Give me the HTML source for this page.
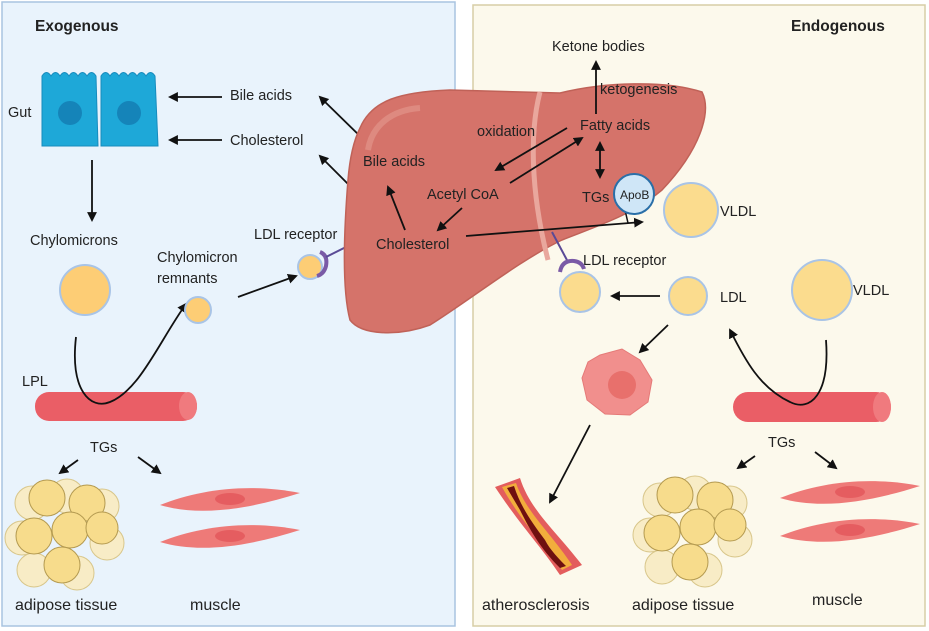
<!DOCTYPE html>
<html><head><meta charset="utf-8"><style>
html,body{margin:0;padding:0;background:#fff;}
svg{display:block;font-family:"Liberation Sans",sans-serif;}
text{font-size:14.5px;fill:#222;}
</style></head><body>
<svg width="929" height="631" viewBox="0 0 929 631" xmlns="http://www.w3.org/2000/svg">
<defs>
<marker id="a" viewBox="0 0 10 10" refX="8" refY="5" markerWidth="5.5" markerHeight="5.5" orient="auto-start-reverse"><path d="M0,0 L10,5 L0,10 z" fill="#111"/></marker>
<g id="fat">
<circle cx="-30" cy="-25" r="17" fill="#f8ecc6" stroke="#d8c68a"/>
<circle cx="5" cy="-32" r="17" fill="#f8ecc6" stroke="#d8c68a"/>
<circle cx="40" cy="-22" r="17" fill="#f8ecc6" stroke="#d8c68a"/>
<circle cx="-40" cy="10" r="17" fill="#f8ecc6" stroke="#d8c68a"/>
<circle cx="45" cy="15" r="17" fill="#f8ecc6" stroke="#d8c68a"/>
<circle cx="-28" cy="42" r="17" fill="#f8ecc6" stroke="#d8c68a"/>
<circle cx="15" cy="45" r="17" fill="#f8ecc6" stroke="#d8c68a"/>
<circle cx="-15" cy="-30" r="18" fill="#f7dc8c" stroke="#b49a50"/>
<circle cx="25" cy="-25" r="18" fill="#f7dc8c" stroke="#b49a50"/>
<circle cx="-28" cy="8" r="18" fill="#f7dc8c" stroke="#b49a50"/>
<circle cx="8" cy="2" r="18" fill="#f7dc8c" stroke="#b49a50"/>
<circle cx="40" cy="0" r="16" fill="#f7dc8c" stroke="#b49a50"/>
<circle cx="0" cy="37" r="18" fill="#f7dc8c" stroke="#b49a50"/>
</g>
<g id="mus">
<path d="M0,0 C40,-16 90,-22 140,-12 C90,4 40,12 0,0 Z" fill="#ee7a78"/>
<ellipse cx="70" cy="-6" rx="15" ry="6" fill="#e55d60"/>
</g>
</defs>
<rect x="2" y="2" width="453" height="624" fill="#e9f3fc" stroke="#a9c4e0" stroke-width="1.5"/>
<rect x="473" y="5" width="452" height="621" fill="#fcf9ec" stroke="#d7cea6" stroke-width="1.5"/>
<text x="35" y="31" style="font-weight:bold;font-size:15.5px">Exogenous</text>
<text x="791" y="31" style="font-weight:bold;font-size:15.5px">Endogenous</text>

<!-- gut -->
<path d="M42,76 q4.5,-7 9,0 q4.5,-7 9,0 q4.5,-7 9,0 q4.5,-7 9,0 q4.5,-7 9,0 q4.5,-7 9,0 L98,146 L42,146 Z" fill="#1ea8d8" stroke="#178bbd"/>
<path d="M101,76 q4.5,-7 9,0 q4.5,-7 9,0 q4.5,-7 9,0 q4.5,-7 9,0 q4.5,-7 9,0 q4.5,-7 9,0 L158,146 L101,146 Z" fill="#1ea8d8" stroke="#178bbd"/>
<circle cx="70" cy="113" r="12" fill="#1584b9"/>
<circle cx="129" cy="113" r="12" fill="#1584b9"/>
<text x="8" y="117">Gut</text>
<rect x="35" y="392" width="162" height="29" rx="14" fill="#ea5e66"/>
<ellipse cx="188" cy="406" rx="9" ry="14" fill="#f07a7e"/>
<rect x="733" y="392" width="158" height="30" rx="15" fill="#ea5e66"/>
<ellipse cx="882" cy="407" rx="9" ry="15" fill="#f07a7e"/>
<g stroke="#111" stroke-width="1.8" fill="none" marker-end="url(#a)">
<line x1="222" y1="97" x2="170" y2="97"/>
<line x1="222" y1="140" x2="170" y2="140"/>
<line x1="92" y1="160" x2="92" y2="220"/>
<line x1="238" y1="297" x2="296" y2="276"/>
<line x1="364" y1="140" x2="320" y2="97"/>
<line x1="356" y1="192" x2="320" y2="156"/>
<path d="M76,337 C70,390 90,410 110,402 C140,390 160,340 186,304"/>
<line x1="78" y1="460" x2="60" y2="473"/>
<line x1="138" y1="457" x2="160" y2="473"/>
</g>
<text x="230" y="100">Bile acids</text>
<text x="230" y="145">Cholesterol</text>
<text x="30" y="245">Chylomicrons</text>
<circle cx="85" cy="290" r="25" fill="#fdcd75" stroke="#a9c4e6" stroke-width="2"/>
<text x="157" y="262">Chylomicron</text>
<text x="157" y="283">remnants</text>
<circle cx="198" cy="310" r="13" fill="#fdcd75" stroke="#a9c4e6" stroke-width="2"/>
<circle cx="310" cy="267" r="12" fill="#fdcd75" stroke="#a9c4e6" stroke-width="2"/>
<text x="254" y="239">LDL receptor</text>
<path d="M320,252 q8,3 6,14 q-2,8 -9,10" stroke="#7a5aa6" stroke-width="4" fill="none"/>
<line x1="326" y1="257" x2="350" y2="245" stroke="#5a4a96" stroke-width="2"/>
<text x="22" y="386">LPL</text>
<text x="90" y="452">TGs</text>
<use href="#fat" x="62" y="528"/>
<use href="#mus" x="160" y="505"/>
<use href="#mus" x="160" y="542"/>
<text x="15" y="610" style="font-size:16px">adipose tissue</text>
<text x="190" y="610" style="font-size:16px">muscle</text>

<!-- liver -->
<path d="M360,128 C372,100 400,92 450,90 L560,93 C605,82 665,80 702,92 C712,112 700,150 662,190 C632,215 600,225 562,240 C520,260 470,300 430,325 C400,336 362,336 350,320 C340,282 346,205 348,180 C350,155 354,140 360,128 Z" fill="#d5736a" stroke="#c06258" stroke-width="1.5"/>
<path d="M368,150 C372,125 392,110 420,108" stroke="#e59a90" stroke-width="6" fill="none" opacity="0.6"/>
<path d="M540,92 C530,130 530,190 548,260" stroke="#e9a79d" stroke-width="5" fill="none"/>
<g stroke="#111" stroke-width="1.8" fill="none" marker-end="url(#a)">
<line x1="405" y1="230" x2="388" y2="187"/>
<line x1="462" y1="208" x2="438" y2="230"/>
<line x1="567" y1="128" x2="496" y2="170"/>
<line x1="510" y1="183" x2="582" y2="138"/>
<line x1="596" y1="114" x2="596" y2="62"/>
<line x1="600" y1="143" x2="600" y2="177" marker-start="url(#a)"/>
<line x1="466" y1="236" x2="642" y2="222"/>
<line x1="660" y1="296" x2="612" y2="296"/>
<line x1="668" y1="325" x2="640" y2="352"/>
<line x1="590" y1="425" x2="550" y2="502"/>
<path d="M826,340 C830,395 810,412 790,402 C760,388 745,360 730,330"/>
<line x1="755" y1="456" x2="738" y2="468"/>
<line x1="815" y1="452" x2="836" y2="468"/>
</g>
<line x1="625" y1="210" x2="628" y2="223" stroke="#111" stroke-width="1.5"/>
<text x="363" y="166">Bile acids</text>
<text x="376" y="249">Cholesterol</text>
<text x="427" y="199">Acetyl CoA</text>
<text x="477" y="136">oxidation</text>
<text x="580" y="130">Fatty acids</text>
<text x="600" y="94">ketogenesis</text>
<text x="552" y="51">Ketone bodies</text>
<text x="582" y="202">TGs</text>
<circle cx="634" cy="194" r="20" fill="#cfe6f7" stroke="#2a6fa8" stroke-width="2"/>
<text x="620" y="199" style="font-size:12px">ApoB</text>
<circle cx="691" cy="210" r="27" fill="#fbdc8e" stroke="#a9c4e6" stroke-width="2"/>
<text x="720" y="216">VLDL</text>
<line x1="552" y1="232" x2="568" y2="262" stroke="#5a4a96" stroke-width="2"/>
<path d="M560,272 q2,-12 14,-11 q8,1 10,8" stroke="#7a5aa6" stroke-width="4" fill="none"/>
<text x="583" y="265">LDL receptor</text>
<circle cx="580" cy="292" r="20" fill="#fbdc8e" stroke="#a9c4e6" stroke-width="2"/>
<circle cx="688" cy="296" r="19" fill="#fbdc8e" stroke="#a9c4e6" stroke-width="2"/>
<text x="720" y="302">LDL</text>
<circle cx="822" cy="290" r="30" fill="#fbdc8e" stroke="#a9c4e6" stroke-width="2"/>
<text x="853" y="295">VLDL</text>
<path d="M600,355 L622,349 L640,360 L652,380 L648,402 L630,415 L605,414 L587,400 L582,378 L588,362 Z" fill="#f18f8d" stroke="#e57a78"/>
<circle cx="622" cy="385" r="14" fill="#e8706c"/>
<path d="M495,487 L520,478 C530,510 555,530 582,565 L560,575 C540,545 520,525 495,487 Z" fill="#e35d5d"/>
<path d="M502,487 L516,483 C526,512 550,532 572,565 L562,570 C542,542 520,520 502,487 Z" fill="#f2ad3c"/>
<path d="M507,488 L514,486 C520,505 530,520 545,540 C550,550 560,560 566,566 L560,568 C540,548 530,530 520,510 Z" fill="#6e1010"/>
<text x="768" y="447">TGs</text>
<use href="#fat" x="690" y="525"/>
<use href="#mus" x="780" y="498"/>
<use href="#mus" x="780" y="536"/>
<text x="482" y="610" style="font-size:16px">atherosclerosis</text>
<text x="632" y="610" style="font-size:16px">adipose tissue</text>
<text x="812" y="605" style="font-size:16px">muscle</text>
</svg>
</body></html>
